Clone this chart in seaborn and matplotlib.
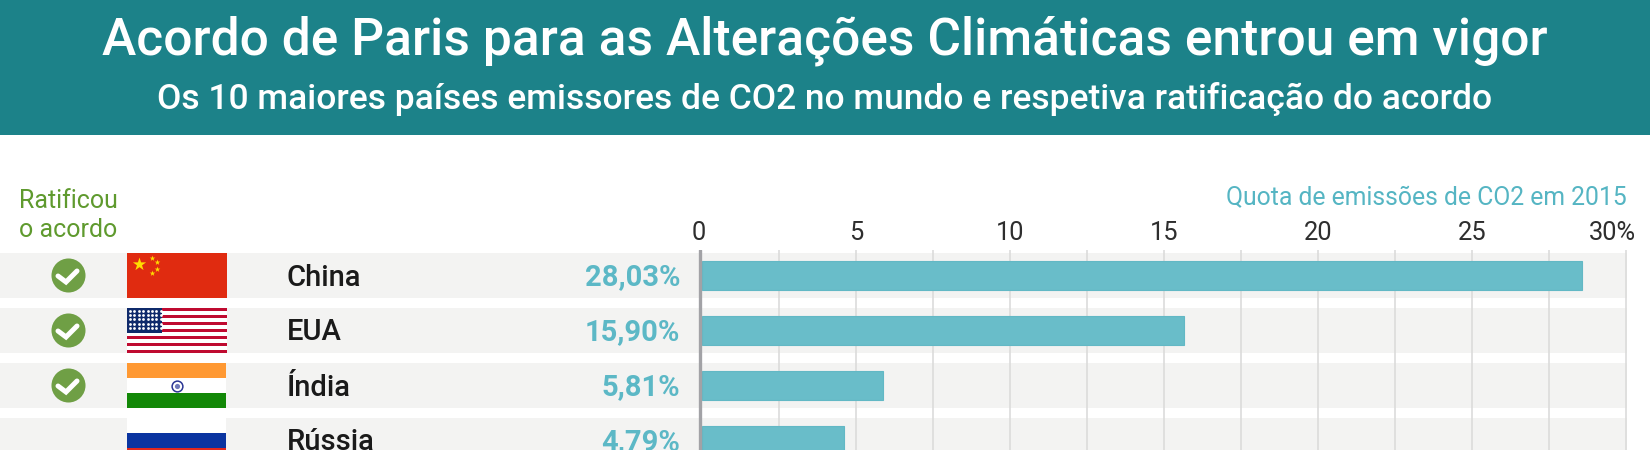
import matplotlib
matplotlib.use('Agg')
import matplotlib.pyplot as plt
from matplotlib.patches import Rectangle
from matplotlib.transforms import ScaledTranslation
import numpy as np
import pandas as pd
import seaborn as sns

countries = ['China', 'EUA', 'Índia', 'Rússia']
# bar lengths, labels as printed
shares = [28.58, 15.65, 5.88, 4.60]
share_labels = ['28,03%', '15,90%', '5,81%', '4,79%']
ratified = [True, True, True, False]
ticks = [0, 5, 10, 15, 20, 25, 30]
tick_labels = ['0', '5', '10', '15', '20', '25', '30%']
minor_ticks = [2.5, 7.5, 12.5, 17.5, 22.5, 27.5]

TEAL = '#1c8289'
BAR = '#69bdc9'
GREEN = '#6f9f45'

sns.set_theme(style='white')
plt.rcParams['font.family'] = ['Roboto', 'DejaVu Sans']

fig = plt.figure(figsize=(16.5, 4.5), dpi=100)

# background layer in pixels
bg = fig.add_axes([0, 0, 1, 1])
bg.set_xlim(0, 1650)
bg.set_ylim(450, 0)
bg.axis('off')

bg.add_patch(Rectangle((0, 0), 1650, 134.5, color=TEAL, lw=0))
bg.text(825, 41, 'Acordo de Paris para as Alterações Climáticas entrou em vigor',
        color='white', fontsize=37.1, fontweight='medium', ha='center', va='center')
bg.text(825, 99, 'Os 10 maiores países emissores de CO2 no mundo e respetiva ratificação do acordo',
        color='white', fontsize=25.5, fontweight='medium', ha='center', va='center')

bg.text(68, 201, 'Ratificou', color='#5f9a2e', fontsize=18, ha='center', va='center')
bg.text(68, 230, 'o acordo', color='#5f9a2e', fontsize=18, ha='center', va='center')
bg.text(1627, 198, 'Quota de emissões de CO2 em 2015', color='#55b5c3', fontsize=17.8,
        ha='right', va='center')

row_top = 253
row_h = 45
pitch = 55
row_right = 1627
flag_x = 127
flag_w = 100


def flag_china(y):
    bg.add_patch(Rectangle((flag_x, y), flag_w, row_h, color='#e02b10', lw=0, zorder=2))
    bg.scatter([flag_x + 12], [y + 11], marker='*', s=100, color='#ffde00', lw=0, zorder=3)
    bg.scatter([flag_x + 25, flag_x + 30, flag_x + 30, flag_x + 25],
               [y + 5, y + 9, y + 16, y + 20], marker='*', s=18, color='#ffde00', lw=0, zorder=3)


def flag_usa(y):
    bg.add_patch(Rectangle((flag_x, y), flag_w, row_h, color='white', lw=0, zorder=2))
    for k in range(0, 13, 2):
        bg.add_patch(Rectangle((flag_x, y + k * row_h / 13), flag_w, row_h / 13,
                               color='#bf0a30', lw=0, zorder=3))
    bg.add_patch(Rectangle((flag_x, y), 35, 24.5, color='#0f2a6b', lw=0, zorder=4))
    sx, sy = np.meshgrid(np.arange(flag_x + 3, flag_x + 34, 4.4), np.arange(y + 3, y + 24, 4.2))
    bg.scatter(sx.ravel(), sy.ravel(), s=4, color='white', lw=0, zorder=5)


def flag_india(y):
    h = row_h / 3
    bg.add_patch(Rectangle((flag_x, y), flag_w - 1, h, color='#ff9933', lw=0, zorder=2))
    bg.add_patch(Rectangle((flag_x, y + h), flag_w - 1, h, color='white', lw=0, zorder=2))
    bg.add_patch(Rectangle((flag_x, y + 2 * h), flag_w - 1, h, color='#128807', lw=0, zorder=2))
    bg.scatter([flag_x + 50], [y + row_h / 2], s=60, facecolor='white', edgecolor='#2a3594',
               lw=1.1, zorder=3)
    bg.scatter([flag_x + 50], [y + row_h / 2], s=14, color='#6f78b8', lw=0, zorder=4)


def flag_russia(y):
    h = row_h / 3
    bg.add_patch(Rectangle((flag_x, y), flag_w - 1, h, color='white', lw=0, zorder=2))
    bg.add_patch(Rectangle((flag_x, y + h), flag_w - 1, h, color='#0a34a0', lw=0, zorder=2))
    bg.add_patch(Rectangle((flag_x, y + 2 * h), flag_w - 1, h, color='#e0281e', lw=0, zorder=2))


flags = [flag_china, flag_usa, flag_india, flag_russia]

for i, name in enumerate(countries):
    y = row_top + i * pitch
    yc = y + row_h / 2
    bg.add_patch(Rectangle((0, y), row_right, row_h, color='#f3f3f2', lw=0, zorder=1))
    flags[i](y)
    bg.text(287, yc + 2, name, color='#1a1a1a', fontsize=21, fontweight='medium',
            ha='left', va='center', zorder=6)
    bg.text(680, yc + 2, share_labels[i], color='#5cb8c6', fontsize=21, fontweight='bold',
            ha='right', va='center', zorder=6)
    if ratified[i]:
        bg.scatter([68], [yc - 0.5], s=600, color=GREEN, lw=0, zorder=3)
        bg.plot([58, 66, 77], [yc + 0.5, yc + 6.5, yc - 4.5], color='white', lw=3.6,
                solid_capstyle='round', solid_joinstyle='miter', zorder=4)

# bars on their own axes, 0 sits just right of the thick axis line
x0, x_right = 702, 1650
y_top = 250
unit = 30.8
left_pad = 6 / unit
ax = fig.add_axes([(x0 - 6) / 1650, 0, (x_right - x0 + 6) / 1650, (450 - y_top) / 450])
ax.patch.set_alpha(0)
df = pd.DataFrame({'country': countries, 'share': shares})
sns.barplot(data=df, x='share', y='country', color=BAR, saturation=1, width=0.53,
            edgecolor='#62b8c5', linewidth=0.8, ax=ax, zorder=3)
ax.set_xlim(-left_pad, (x_right - x0) / unit)
ax.set_ylim((450 - 275.5) / pitch, (y_top - 275.5) / pitch)
ax.set_xlabel('')
ax.set_ylabel('')
ax.set_yticks([])
sns.despine(ax=ax, left=True, bottom=True, top=True, right=True)
ax.xaxis.tick_top()
ax.set_xticks(ticks)
ax.set_xticklabels(tick_labels, color='#2e2e2e', fontsize=18.4)
ax.tick_params(axis='x', length=0, pad=3.3)
# first label sits over the axis line, last one hangs past its gridline
first = ax.get_xticklabels()[0]
first.set_transform(first.get_transform() + ScaledTranslation(-3 / 100, 0, fig.dpi_scale_trans))
last = ax.get_xticklabels()[-1]
last.set_ha('right')
last.set_transform(last.get_transform() + ScaledTranslation(10 / 100, 0, fig.dpi_scale_trans))
for v in ticks[1:] + minor_ticks:
    ax.axvline(v, color='#d9d9d9', lw=1.1, zorder=2)
ax.axvline(-2.3 / unit, color='#a2a2a6', lw=2.4, zorder=4)

fig.savefig('out.png', dpi=100)
